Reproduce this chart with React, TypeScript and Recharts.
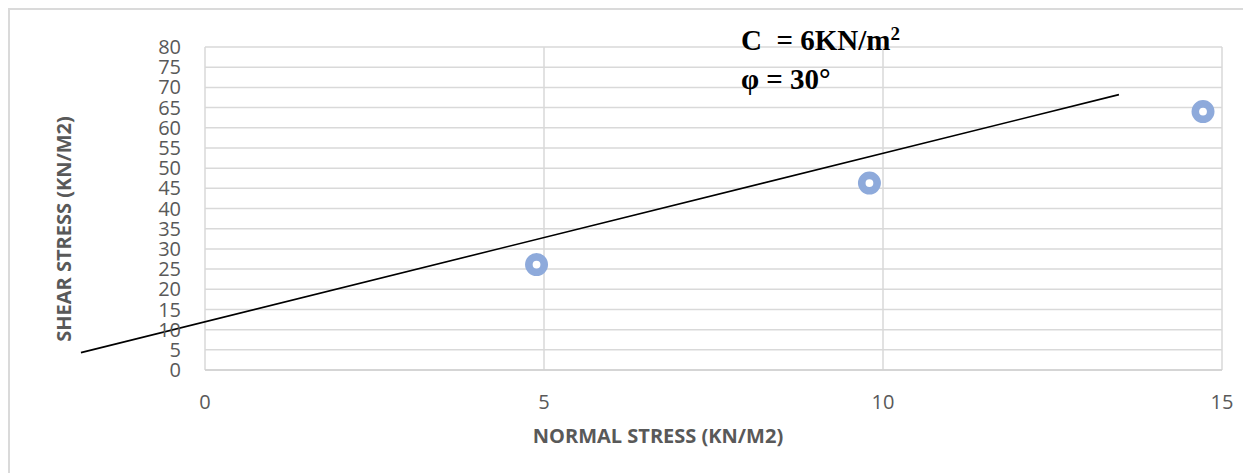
import React from 'react';
import { ScatterChart, Scatter, XAxis, YAxis, CartesianGrid, ReferenceLine } from 'recharts';

// measured points (normal stress vs shear stress)
const normalStress = [4.89, 9.8, 14.72];
const shearStress = [26.1, 46.3, 64.0];

// hand drawn failure envelope, runs past the plot on the left
const envelopeX = [-1.83, 13.48];
const envelopeY = [4.3, 68.2];

const xTicks = [0, 5, 10, 15];
const yTicks = [0, 5, 10, 15, 20, 25, 30, 35, 40, 45, 50, 55, 60, 65, 70, 75, 80];

const data = normalStress.map((x, i) => ({ x, y: shearStress[i] }));
const segment = envelopeX.map((x, i) => ({ x, y: envelopeY[i] }));

const W = 1243;
const H = 473;
const tickStyle = { fill: '#595959', fontSize: 20, fontFamily: '"Open Sans", sans-serif' };

const RingDot = (props: any) => {
    const { cx, cy } = props;
    return <circle cx={cx} cy={cy} r={7.7} fill="#fff" stroke="#8eaadb" strokeWidth={7.6} />;
};

export default function App() {
    return (
        <div style={{ position: 'absolute', left: 0, top: 0, width: W, height: H, background: '#fff' }}>
            <div
                style={{
                    position: 'absolute',
                    left: 8,
                    top: 8,
                    right: 0,
                    bottom: 0,
                    borderLeft: '2px solid #dadada',
                    borderTop: '2px solid #dadada',
                }}
            />
            <ScatterChart width={W} height={H} margin={{ top: 47, right: 21, bottom: 63, left: 0 }} style={{ position: 'absolute', left: 0, top: 0 }}>
                <CartesianGrid stroke="#d9d9d9" strokeWidth={1.5} />
                <XAxis
                    type="number"
                    dataKey="x"
                    domain={[0, 15]}
                    ticks={xTicks}
                    interval={0}
                    height={40}
                    tickSize={0}
                    tickMargin={25}
                    axisLine={{ stroke: '#d0d0d0', strokeWidth: 1.5 }}
                    tickLine={false}
                    tick={tickStyle}
                />
                <YAxis
                    type="number"
                    dataKey="y"
                    domain={[0, 80]}
                    ticks={yTicks}
                    interval={0}
                    width={205}
                    tickSize={0}
                    tickMargin={24}
                    axisLine={false}
                    tickLine={false}
                    tick={tickStyle}
                />
                <ReferenceLine segment={segment} stroke="#000" strokeWidth={1.6} ifOverflow="visible" />
                <Scatter data={data} shape={RingDot} isAnimationActive={false} />
            </ScatterChart>
            <svg width={W} height={H} style={{ position: 'absolute', left: 0, top: 0, pointerEvents: 'none' }}>
                <text
                    x={63}
                    y={229}
                    transform="rotate(-90 63 229)"
                    textAnchor="middle"
                    dominantBaseline="central"
                    fill="#595959"
                    fontSize={20}
                    fontWeight="bold"
                    fontFamily='"Open Sans", sans-serif'
                >
                    SHEAR STRESS (KN/M2)
                </text>
                <text
                    x={658}
                    y={443}
                    textAnchor="middle"
                    fill="#595959"
                    fontSize={20}
                    fontWeight="bold"
                    fontFamily='"Open Sans", sans-serif'
                >
                    NORMAL STRESS (KN/M2)
                </text>
                <text x={741} y={50} fill="#000" fontSize={29} fontWeight="bold" fontFamily='"Liberation Serif", serif' xmlSpace="preserve">
                    C  = 6KN/m<tspan fontSize={19} dy={-10}>2</tspan>
                </text>
                <text x={741} y={89} fill="#000" fontSize={29} fontWeight="bold" fontFamily='"Liberation Serif", serif'>
                    φ = 30°
                </text>
            </svg>
        </div>
    );
}
